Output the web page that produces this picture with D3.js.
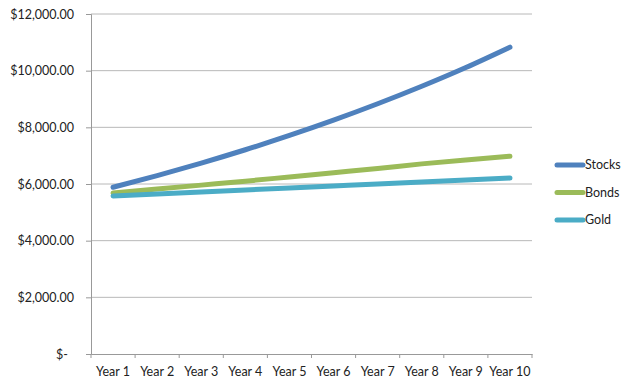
<!DOCTYPE html>
<html lang="en">
<head>
    <meta charset="UTF-8">
    <title>Stocks, Bonds and Gold</title>
    <style>
        body { margin: 0; background: #fff; }
        text { font-family: Lato, "Open Sans", sans-serif; fill: #222; }
    </style>
</head>
<body>
<svg height="389" width="640"></svg>

<script src="https://d3js.org/d3.v7.min.js"></script>
<script>

    // values
    var years = ["Year 1", "Year 2", "Year 3", "Year 4", "Year 5", "Year 6", "Year 7", "Year 8", "Year 9", "Year 10"];
    var stocks = [5885, 6297, 6738, 7209, 7714, 8254, 8832, 9450, 10112, 10830];
    var bonds = [5680, 5820, 5960, 6100, 6250, 6400, 6550, 6710, 6850, 6980];
    var gold = [5580, 5650, 5720, 5790, 5860, 5930, 6000, 6070, 6140, 6210];
    var yTicks = [0, 2000, 4000, 6000, 8000, 10000, 12000];

    var seriesList = [
        {name: "Stocks", values: stocks, color: "#4f81bd"},
        {name: "Bonds", values: bonds, color: "#9bbb59"},
        {name: "Gold", values: gold, color: "#4bacc6"}
    ];

    var svg = d3.select("svg"),
        margin = {top: 14, left: 91, right: 108, bottom: 35};

    var width = +svg.attr("width") - margin.left - margin.right;
    var height = +svg.attr("height") - margin.top - margin.bottom;

    var g = svg.append("g")
        .attr("transform", "translate(" + margin.left + "," + margin.top + ")");

    var x = d3.scaleBand().domain(years).range([0, width]);
    var y = d3.scaleLinear().domain([0, 12000]).range([height, 0]);

    // gridlines
    g.selectAll(".grid")
        .data(yTicks.slice(1))
        .enter()
        .append("line")
        .attr("x1", 0)
        .attr("x2", width)
        .attr("y1", function(d) { return y(d); })
        .attr("y2", function(d) { return y(d); })
        .attr("stroke", "#b8b8b8")
        .attr("stroke-width", 1);

    var fmt = d3.format("$,.2f");

    var yAxis = g.append("g")
        .call(d3.axisLeft(y).tickValues(yTicks).tickSize(5).tickPadding(12)
            .tickFormat(function(d) { return d === 0 ? "$-" : fmt(d); }));
    yAxis.select(".domain").attr("stroke", "#999");
    yAxis.selectAll(".tick line").attr("stroke", "#999");
    yAxis.selectAll("text")
        .attr("font-size", "12.5px")
        .attr("dx", function(d) { return d === 0 ? -6 : 0; });

    var xAxis = g.append("g")
        .attr("transform", "translate(0," + height + ")")
        .call(d3.axisBottom(x).tickSize(0).tickPadding(13));
    xAxis.select(".domain").attr("stroke", "#999");
    xAxis.selectAll("text").attr("font-size", "12.5px");

    // category separator ticks
    g.selectAll(".xtick")
        .data(years.concat(["end"]))
        .enter()
        .append("line")
        .attr("x1", function(d, i) { return i * x.step(); })
        .attr("x2", function(d, i) { return i * x.step(); })
        .attr("y1", height)
        .attr("y2", height + 4)
        .attr("stroke", "#999");

    var line = d3.line()
        .x(function(d, i) { return x(years[i]) + x.bandwidth() / 2; })
        .y(function(d) { return y(d); })
        .curve(d3.curveMonotoneX);

    g.selectAll(".series")
        .data(seriesList)
        .enter()
        .append("path")
        .attr("d", function(d) { return line(d.values); })
        .attr("fill", "none")
        .attr("stroke", function(d) { return d.color; })
        .attr("stroke-width", 5)
        .attr("stroke-linecap", "round");

    // legend
    var legend = svg.append("g").attr("transform", "translate(557,165)");

    var item = legend.selectAll(".item")
        .data(seriesList)
        .enter()
        .append("g")
        .attr("transform", function(d, i) { return "translate(0," + (i * 27.5) + ")"; });

    item.append("line")
        .attr("x1", 0)
        .attr("x2", 26)
        .attr("stroke", function(d) { return d.color; })
        .attr("stroke-width", 5)
        .attr("stroke-linecap", "round");

    item.append("text")
        .attr("x", 28)
        .attr("dy", "0.35em")
        .attr("font-size", "12.5px")
        .text(function(d) { return d.name; });

</script>
</body>
</html>
